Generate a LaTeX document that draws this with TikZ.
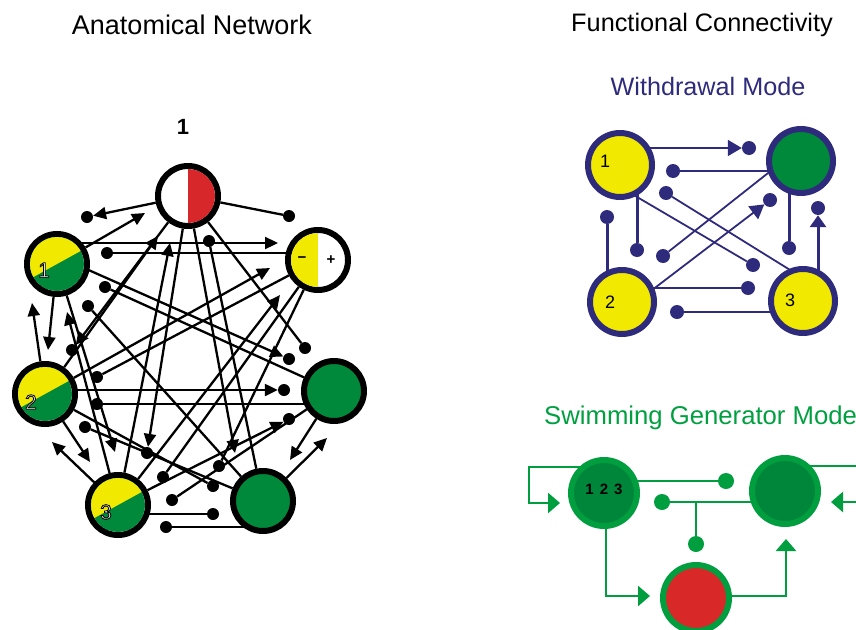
\documentclass[tikz,border=0pt]{standalone}
\usepackage{fontspec}
\setmainfont{Liberation Sans}
\usetikzlibrary{arrows.meta,calc}
\pgfdeclarelayer{bg}
\pgfsetlayers{bg,main}
\definecolor{anred}{HTML}{D8272A}
\definecolor{ayellow}{HTML}{F2E900}
\definecolor{agreen}{HTML}{00893A}
\definecolor{wblue}{HTML}{2E2B7C}
\definecolor{sgring}{HTML}{009E3F}
\definecolor{sginner}{HTML}{00863A}
\definecolor{sred}{HTML}{D82828}
\definecolor{sgtext}{HTML}{00A040}
\newcommand{\splitfill}[1]{%
  \begin{scope}
    \clip (#1.center) circle (27);
    \fill[agreen] (#1.center) circle (28);
    \fill[ayellow] ($(#1.center)+(-39.4,21.7)$) -- ($(#1.center)+(39.4,-21.7)$) -- ($(#1.center)+(17.7,-61.1)$) -- ($(#1.center)+(-61.1,-17.7)$) -- cycle;
  \end{scope}}
\newcommand{\outl}[1]{{\color{white}\special{pdf:literal direct 2 Tr 0.8 w 0 0 0 RG}#1\special{pdf:literal direct 0 Tr 1 1 1 RG}}}
\begin{document}
\begin{tikzpicture}[x=1pt,y=-1pt,
  anode/.style={circle,draw=black,line width=6pt,minimum size=60pt,inner sep=0pt,fill=white},
  ln/.style={line width=2.3pt,black},
  arr/.style={ln,-{Triangle[length=13pt,width=12pt]}},
  adot/.style={circle,fill=black,inner sep=0pt,minimum size=12pt},
  numlab/.style={font=\fontsize{21}{24}\selectfont},
  ttl/.style={inner sep=0pt},
  wnode/.style={circle,draw=wblue,line width=6pt,minimum size=64pt,inner sep=0pt,fill=ayellow},
  wln/.style={line width=1.8pt,wblue},
  wlnv/.style={line width=3pt,wblue},
  warr/.style={wln,-{Triangle[length=14pt,width=16pt]}},
  warrv/.style={wlnv,-{Triangle[length=12pt,width=16pt]}},
  wdot/.style={circle,fill=wblue,inner sep=0pt,minimum size=14pt},
  wlab/.style={font=\fontsize{18}{20}\selectfont},
  snode/.style={circle,draw=sgring,line width=6pt,minimum size=66pt,inner sep=0pt,fill=sginner},
  sln/.style={line width=2.7pt,sgring},
  sarr/.style={sln,-{Triangle[length=12pt,width=20pt]}},
  sdot/.style={circle,fill=sgring,inner sep=0pt,minimum size=16pt}]
\useasboundingbox (0,0) rectangle (856,629);

% ---------- titles ----------
\node[ttl,font=\fontsize{27}{32}\selectfont] (t1) at (192,25) {Anatomical Network};
\node[ttl,font=\fontsize{25.3}{30}\selectfont] (t2) at (702,25) {Functional Connectivity};
\node[ttl,font=\fontsize{25.2}{30}\selectfont,text=wblue] (t3) at (708,86) {Withdrawal Mode};
\node[ttl,font=\fontsize{25.7}{30}\selectfont,text=sgtext,anchor=west] (t4) at (544,418) {Swimming Generator Mode};
\node[font=\bfseries\fontsize{22}{26}\selectfont] (lab1) at (183,127) {1};

% ---------- anatomical network nodes ----------
\node[anode] (T) at (188,196) {};
\node[anode] (TR) at (318,260) {};
\node[anode] (L1) at (57,264) {};
\node[anode] (L2) at (45,394) {};
\node[anode,fill=agreen] (R) at (334,391) {};
\node[anode] (B3) at (118,505) {};
\node[anode,fill=agreen] (BR) at (263,501) {};
\begin{scope}
  \clip (T.center) circle (27);
  \fill[anred] ($(T.center)+(0,-30)$) rectangle ($(T.center)+(30,30)$);
\end{scope}
\begin{scope}
  \clip (TR.center) circle (27);
  \fill[ayellow] ($(TR.center)+(-30,-30)$) rectangle ($(TR.center)+(0,30)$);
\end{scope}
\splitfill{L1}
\splitfill{L2}
\splitfill{B3}
\node[font=\bfseries\fontsize{15}{18}\selectfont] (minus) at ($(TR.center)+(-16,0)$) {−};
\node[font=\bfseries\fontsize{15}{18}\selectfont] (plus) at ($(TR.center)+(13,0)$) {+};
\node[numlab] (n1) at (44,270) {\outl{1}};
\node[numlab] (n2) at (31,402) {\outl{2}};
\node[numlab] (n3) at (106,512) {\outl{3}};

% terminals (dots)
\node[adot] (dTL1) at (87,217) {};
\node[adot] (dTTR) at (289,216) {};
\node[adot] (dTL2) at (72,350) {};
\node[adot] (dTB3) at (147,453) {};
\node[adot] (dTR) at (305,348) {};
\node[adot] (dBRT) at (209,241) {};
\node[adot] (dTRL1) at (107,253) {};
\node[adot] (dL1R) at (289,359) {};
\node[adot] (dRL1) at (105,287) {};
\node[adot] (dBRL1) at (88,306) {};
\node[adot] (dL2R) at (284,390) {};
\node[adot] (dRL2) at (97,404) {};
\node[adot] (dTRL2) at (97,377) {};
\node[adot] (dL2BR) at (213,486) {};
\node[adot] (dBRL2) at (85,427) {};
\node[adot] (dTRB3) at (163,477) {};
\node[adot] (dB3R) at (289,419) {};
\node[adot] (dRB3) at (172,500) {};
\node[adot] (dB3BR) at (213,514) {};
\node[adot] (dBRB3) at (166,527) {};
\node[adot] (dTRBR) at (219,466) {};
% terminals (arrow tips)
\coordinate (aTBR) at (235,453);
\coordinate (aL1T) at (145,213);
\coordinate (aL2T) at (158,236);
\coordinate (aB3T) at (170,243);
\coordinate (aL1TR) at (278,243);
\coordinate (aL1L2) at (48,350);
\coordinate (aL2L1) at (32,303);
\coordinate (aL1B3) at (115,452);
\coordinate (aB3L1) at (67,312);
\coordinate (aL2TR) at (270,268);
\coordinate (aL2B3) at (90,462);
\coordinate (aB3L2) at (52,442);
\coordinate (aB3TR) at (280,295);
\coordinate (aRBR) at (290,460);
\coordinate (aBRR) at (327,438);

\begin{pgfonlayer}{bg}
  % from T
  \draw[arr] (T) -- (dTL1);
  \draw[ln] (T) -- (dTTR);
  \draw[arr] (T) -- (dTL2);
  \draw[arr] (T) -- (dTB3);
  \draw[arr] (T) -- (aTBR);
  \draw[ln] (T) -- (dTR);
  % into T
  \draw[arr] (L1) -- (aL1T);
  \draw[arr] (L2) -- (aL2T);
  \draw[arr] (B3) -- (aB3T);
  \draw[ln] (BR) -- (dBRT);
  % L1
  \draw[arr] (L1.center |- aL1TR) -- (aL1TR);
  \draw[ln] (TR.center |- dTRL1) -- (dTRL1);
  \draw[arr] ($(L1.center)+(0,-8)$) -- (dL1R);
  \draw[ln] (R) -- (dRL1);
  \draw[arr] (L1) -- (aL1L2);
  \draw[arr] (L2) -- (aL2L1);
  \draw[arr] (L1) -- (aL1B3);
  \draw[arr] (B3) -- (aB3L1);
  \draw[ln] (BR) -- (dBRL1);
  % L2
  \draw[arr] (L2.center |- dL2R) -- (dL2R);
  \draw[ln] (R.center |- dRL2) -- (dRL2);
  \draw[ln] (TR) -- (dTRL2);
  \draw[arr] (L2) -- (aL2TR);
  \draw[arr] (L2) -- (aL2B3);
  \draw[arr] (B3) -- (aB3L2);
  \draw[ln] (L2) -- (dL2BR);
  \draw[ln] (BR) -- (dBRL2);
  % B3
  \draw[arr] (B3) -- (aB3TR);
  \draw[ln] (TR) -- (dTRB3);
  \draw[arr] (B3) -- (dB3R);
  \draw[ln] (R) -- (dRB3);
  \draw[ln] (B3.center |- dB3BR) -- (dB3BR);
  \draw[ln] (BR.center |- dBRB3) -- (dBRB3);
  % R, TR
  \draw[arr] (R) -- (aRBR);
  \draw[arr] (BR) -- (aBRR);
  \draw[ln] (TR) -- (dTRBR);
\end{pgfonlayer}

% ---------- withdrawal mode ----------
\node[wnode] (W1) at (620,165) {};
\node[wnode,fill=agreen] (WG) at (801,161) {};
\node[wnode] (W2) at (622,302) {};
\node[wnode] (W3) at (803,301) {};
\node[wlab] (w1l) at (605,161) {1};
\node[wlab] (w2l) at (610,302) {2};
\node[wlab] (w3l) at (790,300) {3};
\node[wdot] (dW1G) at (749,148) {};
\node[wdot] (dWG1) at (673,171) {};
\node[wdot] (dW1v) at (637,250) {};
\node[wdot] (dW13) at (753,265) {};
\node[wdot] (dW31) at (666,193) {};
\node[wdot] (dW2v) at (607,217) {};
\node[wdot] (dWG2) at (663,256) {};
\node[wdot] (dW2G) at (770,200) {};
\node[wdot] (dWGv) at (789,248) {};
\node[wdot] (dW3v) at (818,208) {};
\node[wdot] (dW23) at (748,288) {};
\node[wdot] (dW32) at (677,312) {};
\begin{pgfonlayer}{bg}
  \draw[warr] (W1.center |- dW1G) -- (dW1G);
  \draw[wln] (WG.center |- dWG1) -- (dWG1);
  \draw[wlnv] (W1.center -| dW1v) -- (dW1v);
  \draw[wln] ($(W1.center)+(0,22)$) -- (dW13);
  \draw[wln] ($(W3.center)+(0,-23)$) -- (dW31);
  \draw[wlnv] (W2.center -| dW2v) -- (dW2v);
  \draw[wln] ($(WG.center)+(0,-14)$) -- (dWG2);
  \draw[warr] ($(W2.center)+(0,11)$) -- (dW2G);
  \draw[wlnv] (WG.center -| dWGv) -- (dWGv);
  \draw[warrv] (W3.center -| dW3v) -- (dW3v);
  \draw[wln] (W2.center |- dW23) -- (dW23);
  \draw[wln] (W3.center |- dW32) -- (dW32);
\end{pgfonlayer}

% ---------- swimming generator mode ----------
\node[snode] (S1) at (604,493) {};
\node[snode] (S2) at (785,491) {};
\node[snode,fill=sred] (S3) at (696,598) {};
\node[font=\bfseries\fontsize{15}{18}\selectfont] (s123) at (604,489) {\spaceskip=6pt 1 2 3};
\node[sdot] (dS1) at (726,481) {};
\node[sdot] (dS2) at (662,502) {};
\node[sdot] (dS2b) at (696,544) {};
\coordinate (sl1) at (529,467);
\coordinate (sl2) at (529,503);
\coordinate (sl3) at (560,503);
\coordinate (sbr) at (696,502);
\coordinate (sc1) at (606,596);
\coordinate (sa1) at (650,596);
\coordinate (sc2) at (786,596);
\coordinate (sa2) at (786,539);
\coordinate (sl4) at (875,466);
\coordinate (sl5) at (875,502);
\coordinate (sa3) at (831,502);
\begin{pgfonlayer}{bg}
  \draw[sarr] (S1.center |- sl1) -- (sl1) -- (sl2) -- (sl3);
  \draw[sln] (S1.center |- dS1) -- (dS1);
  \draw[sln] (S2.center |- dS2) -- (dS2);
  \draw[sln] (sbr) -- (dS2b);
  \draw[sarr] (S1.center -| sc1) -- (sc1) -- (sa1);
  \draw[sarr] (S3.center |- sc2) -- (sc2) -- (sa2);
  \draw[sln] (S2.center |- sl4) -- (sl4);
  \draw[sarr] (sl5) -- (sa3);
\end{pgfonlayer}
\end{tikzpicture}
\end{document}
